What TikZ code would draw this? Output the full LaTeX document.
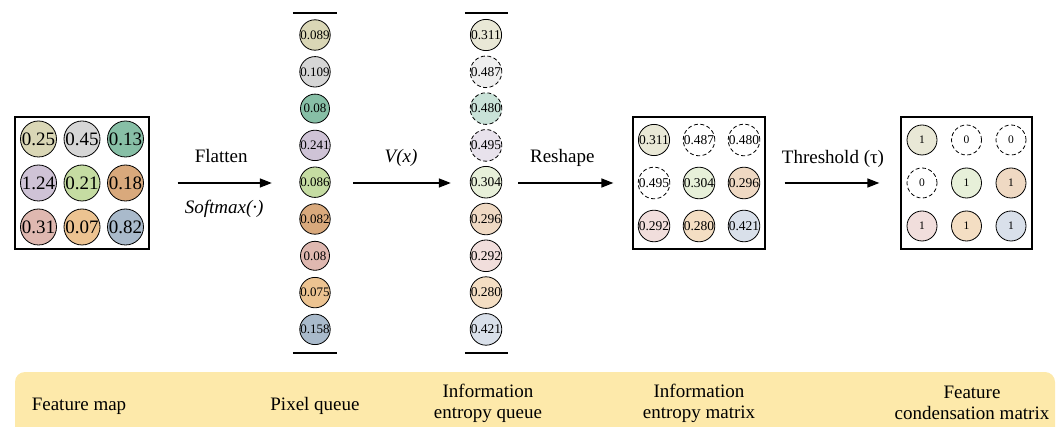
\documentclass[tikz,border=0pt]{standalone}
\usepackage{fontspec}
\setmainfont{Liberation Serif}
\usetikzlibrary{arrows.meta,positioning}
% cell colours of the feature map
\definecolor{fmbeige}{RGB}{218,215,182}
\definecolor{fmgray}{RGB}{214,214,214}
\definecolor{fmteal}{RGB}{135,191,166}
\definecolor{fmlilac}{RGB}{207,195,214}
\definecolor{fmgreen}{RGB}{197,220,162}
\definecolor{fmtan}{RGB}{217,169,124}
\definecolor{fmpink}{RGB}{223,184,176}
\definecolor{fmorange}{RGB}{236,195,145}
\definecolor{fmblue}{RGB}{169,186,203}
% paler versions for the entropy values
\definecolor{enbeige}{RGB}{233,232,214}
\definecolor{engray}{RGB}{238,238,238}
\definecolor{enteal}{RGB}{201,226,216}
\definecolor{enlilac}{RGB}{232,226,236}
\definecolor{engreen}{RGB}{231,240,217}
\definecolor{entan}{RGB}{239,217,195}
\definecolor{enpink}{RGB}{241,222,220}
\definecolor{enorange}{RGB}{244,222,195}
\definecolor{enblue}{RGB}{217,224,234}
\definecolor{bandyellow}{RGB}{253,233,170}

\begin{document}
\begin{tikzpicture}[x=1pt, y=-1pt,
  cell/.style={circle, draw, line width=0.8pt, inner sep=0pt},
  fcell/.style={cell, minimum size=36pt, font=\fontsize{19}{19}\selectfont},
  qcell/.style={cell, minimum size=29pt, font=\fontsize{13}{13}\selectfont},
  mcell/.style={cell, minimum size=30pt, font=\fontsize{13.5}{13.5}\selectfont},
  ccell/.style={cell, minimum size=30pt, font=\fontsize{11.5}{11.5}\selectfont},
  off/.style={dash pattern=on 4pt off 2.5pt},
  panel/.style={draw, line width=1.3pt, inner sep=0pt, minimum height=132pt},
  queue/.style={inner sep=0pt, minimum width=44pt, minimum height=340pt},
  arr/.style={-{Triangle[length=12pt, width=9pt]}, line width=1.5pt},
  lbl/.style={font=\fontsize{19}{21}\selectfont, inner sep=0pt, text depth=0pt},
  caption/.style={font=\fontsize{19}{21}\selectfont, align=center, inner sep=0pt}
]
\useasboundingbox (0,0) rectangle (1062,427);

% bottom band with the stage names
\fill[bandyellow] (15,427) {[rounded corners=10pt] -- (15,372) -- (1055,372)} -- (1055,427) -- cycle;
\node[caption] (tfmap) at (79,406) {Feature map};
\node[caption] (tpq) at (315,406) {Pixel queue};
\node[caption] (teq) at (488,403) {Information\\entropy queue};
\node[caption] (temat) at (699,403) {Information\\entropy matrix};
\node[caption] (tcmat) at (972,403) {Feature\\condensation matrix};

% feature map
\node[panel, minimum width=134pt] (fmap) at (82,183) {};
\node[fcell, fill=fmbeige] (f11) at (38.5,139) {0.25};
\node[fcell, fill=fmgray] (f12) at (82,139) {0.45};
\node[fcell, fill=fmteal] (f13) at (125.5,139) {0.13};
\node[fcell, fill=fmlilac] (f21) at (38.5,183) {1.24};
\node[fcell, fill=fmgreen] (f22) at (82,183) {0.21};
\node[fcell, fill=fmtan] (f23) at (125.5,183) {0.18};
\node[fcell, fill=fmpink] (f31) at (38.5,227) {0.31};
\node[fcell, fill=fmorange] (f32) at (82,227) {0.07};
\node[fcell, fill=fmblue] (f33) at (125.5,227) {0.82};

% pixel queue
\node[queue] (pq) at (315,183) {};
\draw[line width=1.6pt] (pq.north west) -- (pq.north east);
\draw[line width=1.6pt] (pq.south west) -- (pq.south east);
\node[qcell, fill=fmbeige] (p1) at (315,35) {0.089};
\node[qcell, fill=fmgray] (p2) at (315,71.8) {0.109};
\node[qcell, fill=fmteal] (p3) at (315,108.6) {0.08};
\node[qcell, fill=fmlilac] (p4) at (315,145.4) {0.241};
\node[qcell, fill=fmgreen] (p5) at (315,182.2) {0.086};
\node[qcell, fill=fmtan] (p6) at (315,219) {0.082};
\node[qcell, fill=fmpink] (p7) at (315,255.8) {0.08};
\node[qcell, fill=fmorange] (p8) at (315,292.6) {0.075};
\node[qcell, fill=fmblue] (p9) at (315,329.4) {0.158};

% entropy queue
\node[queue, minimum width=43pt] (eq) at (486.5,183) {};
\draw[line width=1.6pt] (eq.north west) -- (eq.north east);
\draw[line width=1.6pt] (eq.south west) -- (eq.south east);
\node[mcell, fill=enbeige] (e1) at (486,35) {0.311};
\node[mcell, off, fill=engray] (e2) at (486,71.8) {0.487};
\node[mcell, off, fill=enteal] (e3) at (486,108.6) {0.480};
\node[mcell, off, fill=enlilac] (e4) at (486,145.4) {0.495};
\node[mcell, fill=engreen] (e5) at (486,182.2) {0.304};
\node[mcell, fill=entan] (e6) at (486,219) {0.296};
\node[mcell, fill=enpink] (e7) at (486,255.8) {0.292};
\node[mcell, fill=enorange] (e8) at (486,292.6) {0.280};
\node[mcell, fill=enblue] (e9) at (486,329.4) {0.421};

% entropy matrix
\node[panel, minimum width=132pt] (emat) at (699,183) {};
\node[mcell, fill=enbeige] (m11) at (654,140) {0.311};
\node[mcell, off] (m12) at (699,140) {0.487};
\node[mcell, off] (m13) at (744,140) {0.480};
\node[mcell, off] (m21) at (654,183) {0.495};
\node[mcell, fill=engreen] (m22) at (699,183) {0.304};
\node[mcell, fill=entan] (m23) at (744,183) {0.296};
\node[mcell, fill=enpink] (m31) at (654,226) {0.292};
\node[mcell, fill=enorange] (m32) at (699,226) {0.280};
\node[mcell, fill=enblue] (m33) at (744,226) {0.421};

% condensation matrix
\node[panel, minimum width=131pt] (cmat) at (966.5,183) {};
\node[ccell, fill=enbeige] (c11) at (922,140) {1};
\node[ccell, off] (c12) at (966.5,140) {0};
\node[ccell, off] (c13) at (1011,140) {0};
\node[ccell, off] (c21) at (922,183) {0};
\node[ccell, fill=engreen] (c22) at (966.5,183) {1};
\node[ccell, fill=entan] (c23) at (1011,183) {1};
\node[ccell, fill=enpink] (c31) at (922,226) {1};
\node[ccell, fill=enorange] (c32) at (966.5,226) {1};
\node[ccell, fill=enblue] (c33) at (1011,226) {1};

% transformation arrows
\draw[arr, shorten <=28pt, shorten >=21pt] (fmap.east) -- (pq.west)
  node[lbl, midway, above=20pt] {Flatten}
  node[lbl, midway, below=16pt, xshift=3pt] {\itshape Softmax(·)};
\draw[arr, shorten <=16pt, shorten >=14pt] (pq.east) -- (eq.west)
  node[lbl, midway, above=20pt] {\itshape V(x)};
\draw[arr, shorten <=10pt, shorten >=19pt] (eq.east) -- (emat.west)
  node[lbl, midway, above=20pt, xshift=-8pt] {Reshape};
\draw[arr, shorten <=19pt, shorten >=21pt] (emat.east) -- (cmat.west)
  node[lbl, midway, above=19pt] {Threshold (τ)};
\end{tikzpicture}
\end{document}
